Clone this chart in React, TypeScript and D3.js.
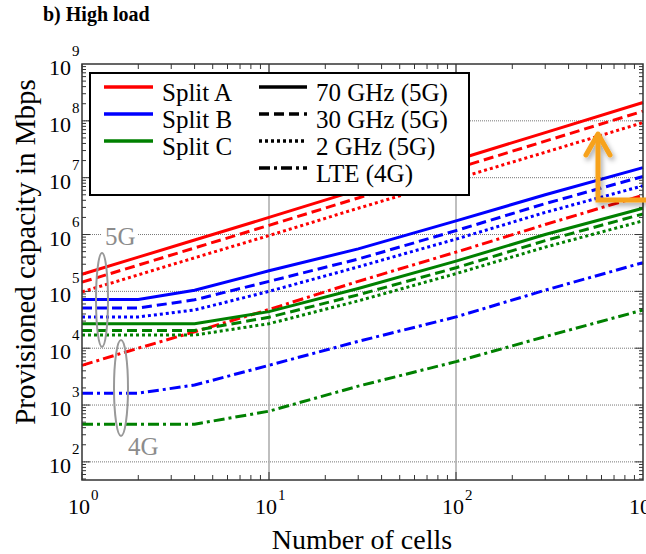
import React, { useEffect, useRef } from 'react';
import * as d3 from 'd3';

// number of cells (x axis)
const cells = [1, 2, 4, 10, 30, 100, 300, 1000];

// provisioned capacity in Mbps
const splitA70 = [2.0e5, 4.0e5, 8.0e5, 2.0e6, 6.1e6, 2.05e7, 6.2e7, 2.1e8];
const splitA30 = [1.45e5, 2.9e5, 5.8e5, 1.45e6, 4.4e6, 1.45e7, 4.4e7, 1.48e8];
const splitA2 = [9.8e4, 1.95e5, 3.9e5, 9.6e5, 2.9e6, 9.5e6, 2.8e7, 9.3e7];
const splitALte = [5.0e3, 1.0e4, 1.95e4, 4.8e4, 1.5e5, 4.9e5, 1.5e6, 4.9e6];

const splitB70 = [7.2e4, 7.2e4, 1.05e5, 2.3e5, 5.6e5, 1.74e6, 5.0e6, 1.5e7];
const splitB30 = [5.1e4, 5.1e4, 7.1e4, 1.5e5, 3.7e5, 1.17e6, 3.5e6, 1.05e7];
const splitB2 = [3.55e4, 3.55e4, 4.7e4, 1.0e5, 2.7e5, 8.3e5, 2.45e6, 7.2e6];
const splitBLte = [1.62e3, 1.62e3, 2.25e3, 5.0e3, 1.32e4, 3.55e4, 1.05e5, 3.2e5];

const splitC70 = [2.7e4, 2.7e4, 2.7e4, 4.4e4, 1.12e5, 3.4e5, 1.0e6, 2.9e6];
const splitC30 = [2.05e4, 2.05e4, 2.05e4, 3.5e4, 8.7e4, 2.6e5, 7.8e5, 2.3e6];
const splitC2 = [1.7e4, 1.7e4, 1.7e4, 2.7e4, 6.8e4, 2.05e5, 6.0e5, 1.74e6];
const splitCLte = [4.6e2, 4.6e2, 4.6e2, 7.8e2, 2.15e3, 5.8e3, 1.6e4, 4.7e4];

const splits = ['Split A', 'Split B', 'Split C'];
const techs = ['70 GHz (5G)', '30 GHz (5G)', '2 GHz (5G)', 'LTE (4G)'];

const seriesList = [
  { split: 0, tech: 0, values: splitA70 },
  { split: 0, tech: 1, values: splitA30 },
  { split: 0, tech: 2, values: splitA2 },
  { split: 0, tech: 3, values: splitALte },
  { split: 1, tech: 0, values: splitB70 },
  { split: 1, tech: 1, values: splitB30 },
  { split: 1, tech: 2, values: splitB2 },
  { split: 1, tech: 3, values: splitBLte },
  { split: 2, tech: 0, values: splitC70 },
  { split: 2, tech: 1, values: splitC30 },
  { split: 2, tech: 2, values: splitC2 },
  { split: 2, tech: 3, values: splitCLte },
];

const colors = ['#ff0000', '#0000ff', '#008000'];
const dashes = [null, '10,5', '3,3', '11,4,3,4'];
const font = '"Liberation Serif", "Times New Roman", serif';

const Chart = () => {
  const svgRef = useRef(null);

  useEffect(() => {
    const svg = d3.select(svgRef.current);
    svg.selectAll('*').remove();

    const left = 82;
    const right = 643;
    const top = 64;
    const bottom = 480;

    const x = d3.scaleLog().domain([1, 1000]).range([left, right]);
    const y = d3.scaleLog().domain([48, 1e9]).range([bottom, top]);

    // shadow for the orange arrow
    const defs = svg.append('defs');
    defs
      .append('filter')
      .attr('id', 'shadow')
      .attr('x', '-50%')
      .attr('y', '-50%')
      .attr('width', '200%')
      .attr('height', '200%')
      .append('feDropShadow')
      .attr('dx', 2)
      .attr('dy', 3)
      .attr('stdDeviation', 2.5)
      .attr('flood-color', '#000')
      .attr('flood-opacity', 0.35);

    // title
    svg
      .append('text')
      .attr('x', 43)
      .attr('y', 21)
      .style('font-family', font)
      .style('font-weight', 'bold')
      .style('font-size', '20px')
      .text('b) High load');

    // grid
    const yDecades = d3.range(2, 9).map((k) => Math.pow(10, k));
    svg
      .append('g')
      .selectAll('line')
      .data(yDecades)
      .enter()
      .append('line')
      .attr('x1', left)
      .attr('x2', right)
      .attr('y1', (d) => y(d))
      .attr('y2', (d) => y(d))
      .attr('stroke', '#777')
      .attr('stroke-width', 1)
      .attr('stroke-dasharray', '1,1');

    svg
      .append('g')
      .selectAll('line')
      .data([10, 100])
      .enter()
      .append('line')
      .attr('x1', (d) => x(d))
      .attr('x2', (d) => x(d))
      .attr('y1', top)
      .attr('y2', bottom)
      .attr('stroke', '#aaa')
      .attr('stroke-width', 1.5);

    // ticks
    const yTicks = [];
    for (let k = 1; k <= 8; k++) {
      for (let m = 1; m <= 9; m++) {
        const v = m * Math.pow(10, k);
        if (v >= 48 && v <= 1e9) yTicks.push({ v, major: m === 1 });
      }
    }
    const xTicks = [];
    for (let k = 0; k <= 2; k++) {
      for (let m = 1; m <= 9; m++) {
        const v = m * Math.pow(10, k);
        xTicks.push({ v, major: m === 1 });
      }
    }
    const tg = svg.append('g').attr('stroke', '#333').attr('stroke-width', 1);
    yTicks.forEach((t) => {
      const len = t.major ? 8 : 4;
      tg.append('line').attr('x1', left).attr('x2', left + len).attr('y1', y(t.v)).attr('y2', y(t.v));
      tg.append('line').attr('x1', right).attr('x2', right - len).attr('y1', y(t.v)).attr('y2', y(t.v));
    });
    xTicks.forEach((t) => {
      const len = t.major ? 8 : 5;
      tg.append('line').attr('x1', x(t.v)).attr('x2', x(t.v)).attr('y1', bottom).attr('y2', bottom - len);
      tg.append('line').attr('x1', x(t.v)).attr('x2', x(t.v)).attr('y1', top).attr('y2', top + len);
    });

    // series
    const line = d3
      .line()
      .x((d) => x(d[0]))
      .y((d) => y(d[1]));

    svg
      .append('g')
      .selectAll('path')
      .data(seriesList)
      .enter()
      .append('path')
      .attr('d', (s) => line(cells.map((c, i) => [c, s.values[i]])))
      .attr('fill', 'none')
      .attr('stroke', (s) => colors[s.split])
      .attr('stroke-width', 3)
      .attr('stroke-dasharray', (s) => dashes[s.tech]);

    // frame
    svg
      .append('rect')
      .attr('x', left)
      .attr('y', top)
      .attr('width', right - left)
      .attr('height', bottom - top)
      .attr('fill', 'none')
      .attr('stroke', '#333')
      .attr('stroke-width', 1.5);

    // y tick labels
    const yl = svg.append('g').style('font-family', font);
    yDecades.concat([1e9]).forEach((d) => {
      const k = Math.round(Math.log10(d));
      yl.append('text')
        .attr('x', 71)
        .attr('y', y(d) + 11)
        .attr('text-anchor', 'end')
        .style('font-size', '22px')
        .text('10');
      yl.append('text')
        .attr('x', 72)
        .attr('y', y(d) - 8)
        .style('font-size', '15px')
        .text(k);
    });

    // x tick labels
    [1, 10, 100, 1000].forEach((d) => {
      const k = Math.round(Math.log10(d));
      yl.append('text')
        .attr('x', x(d) - 3)
        .attr('y', 514)
        .attr('text-anchor', 'middle')
        .style('font-size', '22px')
        .text('10');
      yl.append('text')
        .attr('x', x(d) + 9)
        .attr('y', 500)
        .style('font-size', '15px')
        .text(k);
    });

    // axis titles
    svg
      .append('text')
      .attr('transform', 'translate(35, 252) rotate(-90)')
      .attr('text-anchor', 'middle')
      .style('font-family', font)
      .style('font-size', '29px')
      .text('Provisioned capacity in Mbps');

    svg
      .append('text')
      .attr('x', 362)
      .attr('y', 549)
      .attr('text-anchor', 'middle')
      .style('font-family', font)
      .style('font-size', '28px')
      .text('Number of cells');

    // legend
    const lg = svg.append('g').style('font-family', font).style('font-size', '25px');
    lg.append('rect')
      .attr('x', 90)
      .attr('y', 73)
      .attr('width', 379)
      .attr('height', 122)
      .attr('fill', '#fff')
      .attr('stroke', '#000')
      .attr('stroke-width', 2);
    const rowY = (i) => 87 + i * 27;
    splits.forEach((s, i) => {
      lg.append('line')
        .attr('x1', 104)
        .attr('x2', 153)
        .attr('y1', rowY(i))
        .attr('y2', rowY(i))
        .attr('stroke', colors[i])
        .attr('stroke-width', 3.5);
      lg.append('text').attr('x', 162).attr('y', rowY(i) + 14).text(s);
    });
    techs.forEach((t, i) => {
      lg.append('line')
        .attr('x1', 259)
        .attr('x2', 307)
        .attr('y1', rowY(i))
        .attr('y2', rowY(i))
        .attr('stroke', '#000')
        .attr('stroke-width', 3.5)
        .attr('stroke-dasharray', dashes[i]);
      lg.append('text').attr('x', 316).attr('y', rowY(i) + 14).text(t);
    });

    // 5G / 4G annotations
    const an = svg.append('g').style('font-family', font).style('font-size', '25px');
    an.append('rect').attr('x', 102).attr('y', 226).attr('width', 36).attr('height', 18).attr('fill', '#fff');
    an.append('text').attr('x', 105).attr('y', 245).attr('fill', '#8c8c8c').text('5G');
    an.append('ellipse')
      .attr('cx', 102)
      .attr('cy', 300)
      .attr('rx', 6)
      .attr('ry', 47)
      .attr('fill', 'none')
      .attr('stroke', '#999')
      .attr('stroke-width', 2);
    an.append('ellipse')
      .attr('cx', 121)
      .attr('cy', 388)
      .attr('rx', 7)
      .attr('ry', 48)
      .attr('fill', 'none')
      .attr('stroke', '#999')
      .attr('stroke-width', 2);
    an.append('text').attr('x', 128).attr('y', 455).attr('fill', '#8c8c8c').text('4G');

    // orange arrow
    const ar = svg
      .append('g')
      .attr('fill', 'none')
      .attr('stroke', '#f7a21b')
      .attr('stroke-width', 5)
      .attr('filter', 'url(#shadow)');
    ar.append('path').attr('d', 'M646,200 L598,200 L598,134');
    ar.append('path')
      .attr('d', 'M586,155 L598,134 L610,155')
      .attr('stroke-linecap', 'round')
      .attr('stroke-linejoin', 'round');

    return () => {
      svg.selectAll('*').remove();
    };
  }, []);

  return (
    <svg
      ref={svgRef}
      width={646}
      height={554}
      style={{ position: 'absolute', left: 0, top: 0, background: '#fff' }}
    ></svg>
  );
};

export default function App() {
  return <Chart />;
}
